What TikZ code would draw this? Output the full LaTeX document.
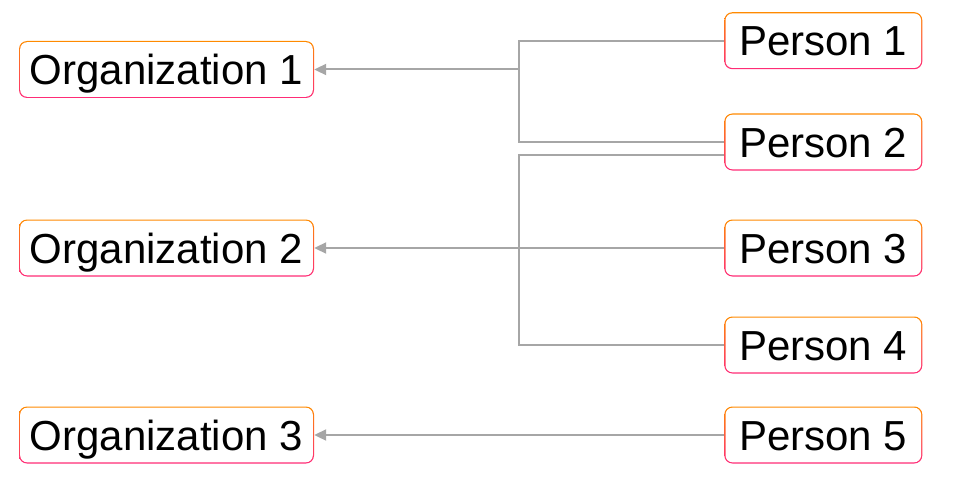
\documentclass[tikz,border=0pt]{standalone}
\usepackage{fontspec}
\setmainfont{Liberation Sans}
\usepackage{tikz}
\usetikzlibrary{arrows.meta,positioning,calc}
\definecolor{LinkOrange}{HTML}{FF8A00}
\definecolor{LinkPink}{HTML}{FF2A78}
\definecolor{LinkGray}{HTML}{A6A6A6}
\tikzset{
  namebox/.style={rounded corners=8pt,top color=LinkOrange,bottom color=LinkPink,
    path picture={\fill[white,rounded corners=7pt]
      ([shift={(1.2pt,1.2pt)}]path picture bounding box.south west) rectangle
      ([shift={(-1.2pt,-1.2pt)}]path picture bounding box.north east);},
    inner sep=0pt,minimum height=57pt,text height=30pt,text depth=0pt,
    font=\fontsize{42}{48}\selectfont},
  orgbox/.style={namebox,minimum width=295pt},
  personbox/.style={namebox,minimum width=198pt},
  linkline/.style={line width=2pt,draw=LinkGray},
  linkarrow/.style={-{Triangle[length=12pt,width=11pt]},line width=2pt,draw=LinkGray}
}
\begin{document}
\begin{tikzpicture}[x=1pt,y=-1pt]
  \useasboundingbox (0,0) rectangle (960,476);
  % organizations
  \node[orgbox] (org1) at (166.5,69.5) {Organization 1};
  \node[orgbox] (org2) at (166.5,248) {Organization 2};
  \node[orgbox] (org3) at (166.5,435) {Organization 3};
  % persons
  \node[personbox] (p1) at (823.3,40.7) {Person 1};
  \node[personbox] (p2) at (823.3,142) {Person 2};
  \node[personbox] (p3) at (823.3,248) {Person 3};
  \node[personbox] (p4) at (823.3,345) {Person 4};
  \node[personbox] (p5) at (823.3,435) {Person 5};

  \coordinate (fork1) at (519,69.5);
  \coordinate (fork2) at (519,248);
  \draw[linkline] (p1.west) -| (fork1);
  \draw[linkline] (p2.west) -| (fork1);
  \draw[linkarrow] (fork1) -- (org1.east);
  \draw[linkline] ([yshift=-13pt]p2.west) -| (fork2);
  \draw[linkline] (p4.west) -| (fork2);
  \draw[linkarrow] (p3.west) -- (org2.east);
  \draw[linkarrow] (p5.west) -- (org3.east);
\end{tikzpicture}
\end{document}
